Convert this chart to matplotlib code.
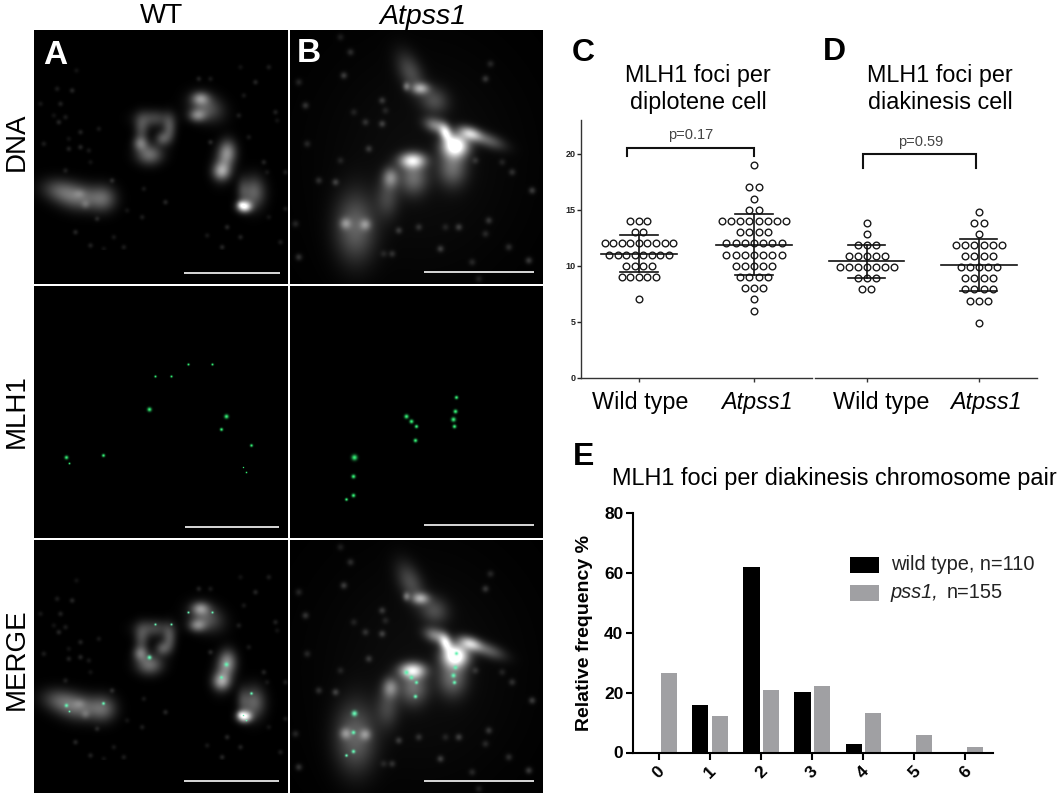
"""Micrograph panels (A, B) and MLH1 foci charts (C, D, E)."""
import numpy as np
import matplotlib
matplotlib.use("Agg")
import matplotlib.pyplot as plt
from matplotlib.patches import Rectangle

plt.rcParams["font.family"] = ["Liberation Sans", "DejaVu Sans"]

W, H = 1062, 800

# --- chart data -----------------------------------------------------------
GROUPS = ["Wild type", "Atpss1"]

# swarm rows: foci value, number of cells
C_WT_VALUES = [14, 13, 12, 11, 10, 9, 7]
C_WT_COUNTS = [3, 2, 9, 8, 4, 5, 1]
C_KO_VALUES = [19, 17, 16, 15, 14, 13, 12, 11, 10, 9, 8, 7, 6]
C_KO_COUNTS = [1, 2, 1, 2, 8, 4, 7, 7, 5, 4, 3, 1, 1]
C_MEAN = [11.07, 11.86]
C_SD_LOW = [9.48, 9.15]
C_SD_HIGH = [12.78, 14.65]

D_WT_VALUES = [13.85, 12.85, 11.9, 10.9, 9.9, 8.9, 7.9]
D_WT_COUNTS = [1, 1, 3, 5, 7, 3, 2]
D_KO_VALUES = [14.8, 13.85, 12.85, 11.9, 10.9, 9.9, 8.9, 7.9, 6.9, 4.9]
D_KO_COUNTS = [1, 2, 1, 6, 4, 5, 4, 4, 3, 1]
D_MEAN = [10.4, 10.1]
D_SD_LOW = [8.9, 7.74]
D_SD_HIGH = [11.87, 12.4]

E_FOCI = ["0", "1", "2", "3", "4", "5", "6"]
E_WILD = [0, 15.8, 62, 20.2, 3, 0, 0]
E_PSS1 = [26.7, 12.1, 21, 22.2, 13.2, 5.7, 1.7]

# --- micrograph data, figure pixels ---------------------------------------
# x, y, sigma x, sigma y, angle, brightness
A_BLOBS = [
    (60, 190, 13, 8, 10, .3), (80, 197, 14, 9, 3, .36), (103, 198, 9, 9, -5, .32),
    (85, 204, 3, 3, 0, .14), (79, 193, 4, 3, 0, .1),
    (153, 118, 12, 6, 0, .26), (169, 128, 4.5, 9, 0, .3), (141, 128, 5, 9, 0, .26),
    (140, 143, 5, 5, 0, .36), (162, 138, 5, 5, 0, .3), (149, 154, 9, 7, 0, .42),
    (200, 98, 6, 4.5, 0, .4), (197, 115, 6, 4.5, 0, .4), (206, 107, 12, 9, 25, .33),
    (227, 151, 6, 8, 0, .34), (221, 171, 6, 6, 0, .45), (224, 161, 7, 12, 12, .3),
    (244, 206, 5, 4, 0, .9), (240, 204, 2.5, 2.5, 0, .2), (253, 192, 8, 11, 0, .38),
    (242, 190, 4, 9, 0, .15),
]
A_SPECKS = [
    (228, 210), (170, 265), (215, 270), (120, 310), (180, 310), (160, 345), (195, 350),
    (175, 365), (295, 385), (240, 395), (205, 415), (130, 430), (240, 440), (265, 450),
    (205, 445), (270, 485), (195, 510), (335, 540), (430, 565), (290, 655), (380, 630),
    (425, 650), (225, 695), (340, 710), (270, 735), (310, 745), (370, 740), (495, 605),
    (630, 235), (595, 235), (720, 200), (805, 200), (765, 245), (730, 285), (825, 335),
    (830, 360), (715, 345), (630, 425), (745, 410), (790, 485), (800, 515), (855, 515),
    (680, 680), (620, 705), (720, 710), (805, 650), (840, 725), (665, 740), (855, 625),
]
B_BLOBS = [
    (420, 160, 70, 80, 0, .05),
    (410, 72, 8, 15, -25, .26), (420, 88, 6, 4, 0, .5), (434, 100, 10, 9, 35, .26),
    (406, 86, 2.5, 3, 0, .3), (435, 125, 8, 5, 20, .45), (445, 132, 4, 6, -20, .7),
    (455, 145, 9, 8, 0, 1.1), (452, 167, 10, 13, 0, .38), (470, 133, 8, 4.5, 20, .65),
    (488, 140, 12, 5, 20, .32), (412, 160, 9, 5.5, 0, .8), (413, 177, 10, 12, 0, .38),
    (390, 177, 5.5, 7, 0, .42), (387, 197, 8, 14, 0, .22), (355, 227, 14, 24, 0, .36),
    (345, 223, 4, 4, 0, .3), (365, 224, 4, 4, 0, .3),
]
B_SPECKS = [
    (165, 110), (195, 155), (175, 225), (40, 245), (60, 315), (205, 335), (240, 365),
    (290, 370), (65, 430), (250, 445), (165, 480), (100, 540), (150, 545), (30, 670),
    (340, 690), (295, 760), (320, 760), (465, 745), (600, 700), (610, 660), (480, 680),
    (670, 740), (730, 780), (615, 190), (600, 235), (650, 485), (680, 515), (740, 570),
    (570, 480), (40, 770), (580, 835), (400, 680), (520, 680), (560, 785), (290, 300),
    (300, 330),
]
A_FOCI = [
    (66, 457, 1.3), (69, 463, .7), (103, 455, 1.1), (149, 409, 1.5), (155, 376, .8),
    (171, 376, .8), (188, 364, .8), (212, 364, .8), (226, 416, 1.5), (221, 429, 1.1),
    (251, 445, 1.0), (243, 467, .5), (246, 472, .6),
]
B_FOCI = [
    (354, 457, 2.0), (353, 476, 1.4), (353, 495, 1.3), (346, 499, 1.0), (406, 416, 1.5),
    (411, 421, 1.4), (416, 426, 1.2), (415, 440, 1.3), (456, 397, 1.2), (455, 411, 1.4),
    (453, 419, 1.6), (454, 426, 1.3),
]

PANEL_X = [(34, 288), (290, 543)]
PANEL_Y = [(30, 284), (286, 538), (540, 793)]
SCALE_BARS = [(184, 280, 273), (424, 534, 272), (185, 279, 527),
              (424, 534, 525), (184, 279, 781), (424, 534, 781)]


def gauss(xx, yy, x, y, sx, sy, angle, amp):
    t = np.radians(angle)
    u = (xx - x) * np.cos(t) + (yy - y) * np.sin(t)
    v = -(xx - x) * np.sin(t) + (yy - y) * np.cos(t)
    return amp * np.exp(-0.5 * ((u / sx) ** 2 + (v / sy) ** 2))


def dna_image(x0, x1, y0, y1, blobs, specks, speck_sigma, speck_amp, origin_x):
    """Grey image on the pixel grid of row 1, built from blobs and faint specks."""
    yy, xx = np.mgrid[y0:y1, x0:x1].astype(float)
    img = np.zeros_like(xx)
    for b in blobs:
        img += gauss(xx, yy, *b)
    for i, (zx, zy) in enumerate(specks):
        amp = speck_amp * (0.5 + 0.5 * ((i * 7) % 5) / 4)
        img += gauss(xx, yy, origin_x + zx / 3, zy / 3, speck_sigma, speck_sigma, 0, amp)
    return np.clip(img, 0, 1)


def foci_layer(x0, x1, y0, y1, foci, dy=0):
    yy, xx = np.mgrid[y0:y1, x0:x1].astype(float)
    img = np.zeros_like(xx)
    for x, y, s in foci:
        img += gauss(xx, yy, x, y + dy, s, s, 0, 1.0)
    return np.clip(img, 0, 1)


def show_panel(ax, rgb, x, y):
    ax.imshow(rgb, extent=[x[0], x[1], y[1], y[0]], aspect="auto",
              interpolation="bilinear", zorder=1)


def chart_axes(fig, left, right, top, bottom):
    return fig.add_axes([left / W, 1 - bottom / H, (right - left) / W, (bottom - top) / H],
                        facecolor="none")


def swarm(ax, pos, values, counts, step):
    for val, n in zip(values, counts):
        xs = pos + (np.arange(n) - (n - 1) / 2) * step
        ax.plot(xs, [val] * n, "o", ms=4.8, mfc="none", mec="#1a1a1a", mew=1.0, zorder=2)


def mean_sd(ax, pos, mean, low, high, half, cap):
    ax.plot([pos - half, pos + half], [mean, mean], color="#111111", lw=1.2, zorder=3)
    ax.plot([pos, pos], [low, high], color="#111111", lw=1.2, zorder=3)
    for v in (low, high):
        ax.plot([pos - cap, pos + cap], [v, v], color="#111111", lw=1.2, zorder=3)


def bracket(ax, x0, x1, top, bottom):
    ax.plot([x0, x0, x1, x1], [bottom, top, top, bottom], color="#111111", lw=1.5,
            solid_joinstyle="miter", clip_on=False)


fig = plt.figure(figsize=(W / 100, H / 100), dpi=100, facecolor="white")

# pixel overlay: micrographs and free labels
px = fig.add_axes([0, 0, 1, 1])
px.axis("off")

img_a = dna_image(*PANEL_X[0], *PANEL_Y[0], A_BLOBS, A_SPECKS, 1.8, .13, 0)
img_b = dna_image(*PANEL_X[1], *PANEL_Y[0], B_BLOBS, B_SPECKS, 2.4, .2, 285)
img_a[220:] *= 0.15     # lower strip of panel A is almost empty

green = np.array([.2, .92, .45])
cyan = np.array([.4, .95, .7])

show_panel(px, np.dstack([img_a] * 3), PANEL_X[0], PANEL_Y[0])
show_panel(px, np.dstack([img_b] * 3), PANEL_X[1], PANEL_Y[0])

for col, foci, dy in ((0, A_FOCI, 248), (1, B_FOCI, 256)):
    x = PANEL_X[col]
    layer = foci_layer(*x, *PANEL_Y[1], foci)
    show_panel(px, layer[..., None] * green, x, PANEL_Y[1])
    # merged row: same DNA image, foci on top
    base = img_a if col == 0 else img_b
    base = base[:PANEL_Y[2][1] - PANEL_Y[2][0]]
    top = foci_layer(*x, *PANEL_Y[2], foci, dy=dy)
    rgb = np.dstack([base] * 3) * (1 - top[..., None]) + top[..., None] * cyan
    show_panel(px, rgb, x, PANEL_Y[2])

for x0, x1, y in SCALE_BARS:
    px.plot([x0, x1], [y, y], color="#d8d8d8", lw=1.4, zorder=2, solid_capstyle="butt")

px.set_xlim(0, W)
px.set_ylim(H, 0)

px.text(162, 16, "WT", fontsize=20, ha="center", va="center")
px.text(423, 17, "Atpss1", fontsize=20.5, style="italic", ha="center", va="center")
for label, y in (("DNA", 142), ("MLH1", 411), ("MERGE", 659)):
    px.text(17, y, label, fontsize=20, rotation=90, ha="center", va="center")

px.text(43, 55, "A", fontsize=24, weight="bold", color="white", ha="left", va="center", zorder=3)
px.text(297, 53, "B", fontsize=24, weight="bold", color="white", ha="left", va="center", zorder=3)
px.text(572, 53, "C", fontsize=23, weight="bold", ha="left", va="center")
px.text(823, 52, "D", fontsize=23, weight="bold", ha="left", va="center")
px.text(573, 457, "E", fontsize=23, weight="bold", ha="left", va="center")

px.text(698, 89, "MLH1 foci per\ndiplotene cell", fontsize=16.8, ha="center", va="center",
        linespacing=1.25)
px.text(940, 89, "MLH1 foci per\ndiakinesis cell", fontsize=16.8, ha="center", va="center",
        linespacing=1.25)
px.text(612, 479, "MLH1 foci per diakinesis chromosome pair", fontsize=16.9, va="center")

px.text(691, 135, "p=0.17", fontsize=10.5, color="#444444", ha="center", va="center")
px.text(921, 142, "p=0.59", fontsize=10.5, color="#444444", ha="center", va="center")

for x in (640, 881):
    px.text(x, 402, GROUPS[0], fontsize=16.8, ha="center", va="center")
for x in (757, 986):
    px.text(x, 402, GROUPS[1], fontsize=16.8, style="italic", ha="center", va="center")

# legend of E
px.add_patch(Rectangle((850, 557), 29, 16, fc="black", ec="none"))
px.add_patch(Rectangle((850, 585), 29, 16, fc="#a0a0a3", ec="none"))
px.text(891, 565, "wild type, n=110", fontsize=14.4, color="#222222", va="center")
px.text(891, 593, "pss1,", fontsize=14.4, style="italic", color="#222222", va="center")
px.text(947, 593, "n=155", fontsize=14.4, color="#222222", va="center")

# C
ax_c = chart_axes(fig, 581, 812, 120, 378)
ax_c.set_xlim(0.496, 2.504)
ax_c.set_ylim(0, 23)
swarm(ax_c, 1, C_WT_VALUES, C_WT_COUNTS, 0.074)
swarm(ax_c, 2, C_KO_VALUES, C_KO_COUNTS, 0.08)
for i in range(2):
    mean_sd(ax_c, i + 1, C_MEAN[i], C_SD_LOW[i], C_SD_HIGH[i], 0.33, 0.165)
bracket(ax_c, 0.9, 2, 20.5, 19.8)
ax_c.set_yticks([0, 5, 10, 15, 20])
ax_c.set_xticks([1, 2])
ax_c.set_xticklabels([])
ax_c.tick_params(axis="y", labelsize=6.5, length=3, width=1, pad=1, colors="#222222")
ax_c.tick_params(axis="x", length=3, width=1, color="#333333")
for t in ax_c.get_yticklabels():
    t.set_fontweight("bold")

# D
ax_d = chart_axes(fig, 815, 1037, 120, 378)
ax_d.set_xlim(0.536, 2.518)
ax_d.set_ylim(0, 23)
swarm(ax_d, 1, D_WT_VALUES, D_WT_COUNTS, 0.08)
swarm(ax_d, 2, D_KO_VALUES, D_KO_COUNTS, 0.082)
for i in range(2):
    mean_sd(ax_d, i + 1, D_MEAN[i], D_SD_LOW[i], D_SD_HIGH[i], 0.335, 0.165)
bracket(ax_d, 0.965, 1.975, 19.95, 18.7)
ax_d.set_xticks([1, 2])
ax_d.set_xticklabels([])
ax_d.set_yticks([])
ax_d.tick_params(axis="x", length=3, width=1, color="#333333")
ax_d.spines["left"].set_visible(False)

for ax in (ax_c, ax_d):
    ax.spines["top"].set_visible(False)
    ax.spines["right"].set_visible(False)
    ax.spines["bottom"].set_linewidth(1.0)
    ax.spines["bottom"].set_color("#333333")
    ax.spines["left"].set_linewidth(1.0)
    ax.spines["left"].set_color("#333333")

# E
ax_e = chart_axes(fig, 633, 993, 513, 752.5)
pos = np.arange(len(E_FOCI))
ax_e.bar(pos - 0.19, E_WILD, 0.315, color="black")
ax_e.bar(pos + 0.19, E_PSS1, 0.315, color="#a0a0a3")
ax_e.set_xlim(-0.51, 6.54)
ax_e.set_ylim(0, 80)
ax_e.set_yticks([0, 20, 40, 60, 80])
ax_e.set_xticks(pos)
ax_e.set_xticklabels(E_FOCI, rotation=45, ha="center", fontsize=12.5, fontweight="bold")
ax_e.tick_params(axis="y", labelsize=12.5, length=5, width=1.5, pad=2)
ax_e.tick_params(axis="x", length=5, width=1.5, pad=3)
for t in ax_e.get_yticklabels():
    t.set_fontweight("bold")
ax_e.set_ylabel("Relative frequency %", fontsize=14, fontweight="bold", labelpad=8)
ax_e.spines["top"].set_visible(False)
ax_e.spines["right"].set_visible(False)
ax_e.spines["left"].set_linewidth(1.5)
ax_e.spines["bottom"].set_linewidth(1.5)

fig.savefig("out.png", dpi=100)
